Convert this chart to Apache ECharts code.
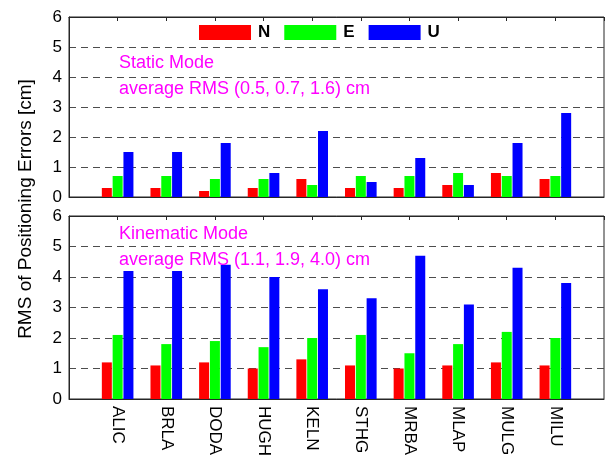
<!DOCTYPE html>
<html>
<head>
<meta charset="utf-8">
<script src="https://cdn.jsdelivr.net/npm/echarts@6/dist/echarts.min.js"></script>
<style>
  html, body { margin: 0; padding: 0; background: #ffffff; }
  #chart { width: 605px; height: 456px; }
</style>
</head>
<body>
<div id="chart"></div>
<script>
// GNSS stations
const stations = ['ALIC', 'BRLA', 'DODA', 'HUGH', 'KELN', 'STHG', 'MRBA', 'MLAP', 'MULG', 'MILU'];

// Static mode RMS [cm]
const staticN = [0.3, 0.3, 0.2, 0.3, 0.6, 0.3, 0.3, 0.4, 0.8, 0.6];
const staticE = [0.7, 0.7, 0.6, 0.6, 0.4, 0.7, 0.7, 0.8, 0.7, 0.7];
const staticU = [1.5, 1.5, 1.8, 0.8, 2.2, 0.5, 1.3, 0.4, 1.8, 2.8];

// Kinematic mode RMS [cm]
const kinN = [1.2, 1.1, 1.2, 1.0, 1.3, 1.1, 1.0, 1.1, 1.2, 1.1];
const kinE = [2.1, 1.8, 1.9, 1.7, 2.0, 2.1, 1.5, 1.8, 2.2, 2.0];
const kinU = [4.2, 4.2, 4.4, 4.0, 3.6, 3.3, 4.7, 3.1, 4.3, 3.8];

const componentNames = ['N', 'E', 'U'];
const staticTitle = 'Static Mode';
const staticAverage = 'average RMS (0.5, 0.7, 1.6) cm';
const kinTitle = 'Kinematic Mode';
const kinAverage = 'average RMS (1.1, 1.9, 4.0) cm';
const yTitle = 'RMS of Positioning Errors [cm]';

const colors = ['#ff0000', '#00ff00', '#0000ff'];
const FONT = '"Liberation Sans", Arial, Helvetica, sans-serif';
const AXIS_COLOR = '#262626';

// x runs from 0 to 11 with stations at 1..10: pad both ends with an empty slot
const xCats = [''].concat(stations, ['']);
const pad = arr => [null].concat(arr, [null]);

const gridBoxes = [
  { left: 69, top: 17, width: 535, height: 180 },
  { left: 69, top: 216, width: 535, height: 183 }
];

function bottomAxis(gridIndex, showLabels) {
  return {
    type: 'category', gridIndex, position: 'bottom', data: xCats, boundaryGap: false,
    axisLine: { show: true, lineStyle: { color: AXIS_COLOR, width: 1 } },
    axisTick: { show: false },
    axisLabel: {
      show: showLabels, interval: 0, rotate: -90, margin: 7,
      fontFamily: FONT, fontSize: 17, color: '#000000'
    },
    splitLine: { show: false }
  };
}

function topAxis(gridIndex) {
  return {
    type: 'category', gridIndex, position: 'top', data: xCats, boundaryGap: false,
    axisLine: { show: true, lineStyle: { color: AXIS_COLOR, width: 1 } },
    axisTick: { show: true, inside: true, length: 4, interval: 0, lineStyle: { color: AXIS_COLOR } },
    axisLabel: { show: false },
    splitLine: { show: false }
  };
}

function leftAxis(gridIndex) {
  return {
    type: 'value', gridIndex, min: 0, max: 6, interval: 1,
    axisLine: { show: true, lineStyle: { color: AXIS_COLOR, width: 1 } },
    axisTick: { show: false },
    axisLabel: { fontFamily: FONT, fontSize: 17, color: '#000000', margin: 7 },
    splitLine: { show: true, lineStyle: { color: '#4d4d4d', width: 1, type: [7, 5] } }
  };
}

function barSeries(name, values, color, xIdx, yIdx) {
  return {
    type: 'bar', name, data: pad(values), xAxisIndex: xIdx, yAxisIndex: yIdx,
    barWidth: 10, barGap: '8%',
    itemStyle: { color },
    animation: false
  };
}

const chart = echarts.init(document.getElementById('chart'), null, { renderer: 'canvas' });

const magentaText = (text, x, y) => ({
  type: 'text', left: x, top: y,
  style: { text, fill: '#ff00ff', font: '18px ' + FONT },
  z: 10
});

chart.setOption({
  animation: false,
  backgroundColor: '#ffffff',
  grid: gridBoxes.map(g => Object.assign({
    containLabel: false, outerBoundsMode: 'none',
    show: true, borderColor: AXIS_COLOR, borderWidth: 1, backgroundColor: 'transparent'
  }, g)),
  legend: {
    data: componentNames,
    left: 199, top: 24,
    icon: 'rect', itemWidth: 52, itemHeight: 15, itemGap: 14,
    textStyle: { fontFamily: FONT, fontSize: 17, fontWeight: 'bold', color: '#000000', padding: [0, 0, 0, 2] },
    backgroundColor: '#ffffff', padding: [0, 4, 0, 0],
    selectedMode: false
  },
  xAxis: [bottomAxis(0, false), topAxis(0), bottomAxis(1, true), topAxis(1)],
  yAxis: [leftAxis(0), leftAxis(1)],
  series: [
    barSeries('N', staticN, colors[0], 0, 0),
    barSeries('E', staticE, colors[1], 0, 0),
    barSeries('U', staticU, colors[2], 0, 0),
    barSeries('N', kinN, colors[0], 2, 1),
    barSeries('E', kinE, colors[1], 2, 1),
    barSeries('U', kinU, colors[2], 2, 1)
  ],
  graphic: [
    magentaText(staticTitle, 119, 54),
    magentaText(staticAverage, 119, 80),
    magentaText(kinTitle, 119, 225),
    magentaText(kinAverage, 119, 251),
    {
      type: 'text', x: 26, y: 209, rotation: Math.PI / 2,
      style: { text: yTitle, fill: '#000000', font: '19px ' + FONT, align: 'center', verticalAlign: 'middle' }
    }
  ]
});
</script>
</body>
</html>
